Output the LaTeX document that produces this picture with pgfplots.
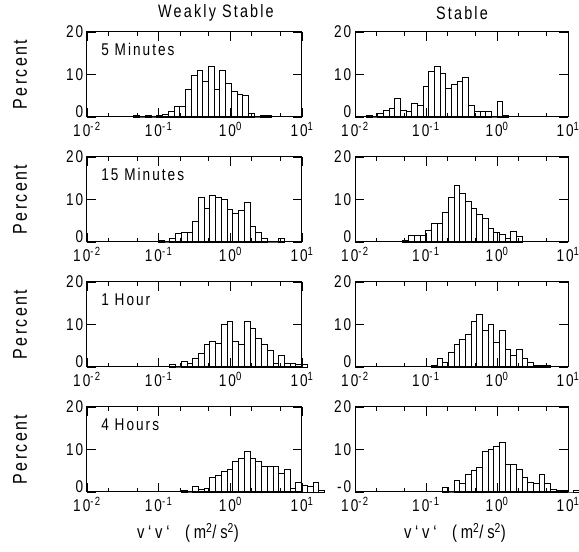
\documentclass[border=0pt]{standalone}
\usepackage{fontspec}
\setmainfont{Liberation Sans}[FakeStretch=0.8, LetterSpace=12]
\newfontfamily\widefont{Liberation Sans}[FakeStretch=0.8, LetterSpace=20]
\usepackage{pgfplots}
\pgfplotsset{compat=1.18}

\pgfplotsset{hist/.style={
  scale only axis, height=85pt,
  xmin=-2, xmax=1, ymin=0, ymax=20,
  xtick={-2,-1,0,1},
  xticklabels={10\textsuperscript{-2},10\textsuperscript{-1},10\textsuperscript{0},10\textsuperscript{1}},
  minor xtick={-1.699,-1.301,-0.699,-0.301,0.301,0.699},
  ytick={0,10,20}, yticklabels={\raisebox{-1pt}[0pt][0pt]{0},10,20},
  tick align=inside, major tick length=9pt, minor tick length=4pt,
  axis on top, clip=false,
  axis line style={line width=1pt},
  every tick/.style={black, line width=0.9pt},
  xticklabel style={inner sep=5pt},
  yticklabel style={inner sep=3.5pt},
}}
\pgfplotsset{bars/.style={ybar interval, fill=white, draw=black, line width=0.9pt}}

\begin{document}
\begin{tikzpicture}[font=\fontsize{17}{20}\selectfont]
\path[use as bounding box] (0pt,0pt) rectangle (579pt,552pt);

% Row 1 left: 5 Minutes, weakly stable
\begin{axis}[hist, width=215pt, at={(87pt,435pt)}, anchor=south west]
\addplot[bars] table {
x y
-1.345 0.25
-1.265 0
-1.185 0.25
-1.105 0
-1.025 0.25
-0.945 0.5
-0.865 1.3
-0.785 2.4
-0.705 2.4
-0.625 6.5
-0.545 9.7
-0.465 11.0
-0.385 8.4
-0.305 11.9
-0.225 6.5
-0.145 11.0
-0.065 7.9
0.015 5.9
0.095 5.3
0.175 5.0
0.255 0.8
0.335 0
0.415 0.25
0.495 0.25
0.575 0
};
\node[anchor=west] at (rel axis cs:0.05,0.79) {5 Minutes};
\end{axis}

% Row 1 right: 5 Minutes, stable
\begin{axis}[hist, width=213pt, at={(355pt,435pt)}, anchor=south west]
\addplot[bars] table {
x y
-1.84 0.4
-1.76 0
-1.68 0.8
-1.60 1.6
-1.52 2.0
-1.44 4.4
-1.36 1.6
-1.28 1.2
-1.20 3.2
-1.12 2.8
-1.04 7.2
-0.96 10.6
-0.88 12.0
-0.80 10.2
-0.72 6.8
-0.64 7.6
-0.56 8.4
-0.48 9.2
-0.40 2.8
-0.32 1.2
-0.24 1.2
-0.16 1.2
-0.08 0
0.00 3.6
0.08 0.3
0.16 0
};
\end{axis}

% Row 2 left: 15 Minutes
\begin{axis}[hist, width=215pt, at={(87pt,310pt)}, anchor=south west]
\addplot[bars] table {
x y
-1.005 0.3
-0.925 0
-0.845 0.9
-0.765 1.9
-0.685 2.35
-0.605 2.35
-0.525 4.9
-0.445 10.4
-0.365 8.0
-0.285 11.0
-0.205 10.5
-0.125 10.0
-0.045 7.6
0.035 6.6
0.115 7.5
0.195 9.2
0.275 3.7
0.355 2.35
0.435 0.9
0.515 0
0.595 0
0.675 0.9
0.755 0
};
\node[anchor=west] at (rel axis cs:0.05,0.79) {15 Minutes};
\end{axis}

% Row 2 right
\begin{axis}[hist, width=213pt, at={(355pt,310pt)}, anchor=south west]
\addplot[bars] table {
x y
-1.325 0.4
-1.245 1.6
-1.165 1.6
-1.085 1.6
-1.005 2.7
-0.925 4.3
-0.845 4.3
-0.765 7.0
-0.685 10.5
-0.605 13.2
-0.525 11.5
-0.445 9.6
-0.365 7.8
-0.285 6.4
-0.205 5.6
-0.125 3.3
-0.045 2.35
0.035 1.7
0.115 0.9
0.195 2.5
0.275 1.2
0.355 0
};
\end{axis}

% Row 3 left: 1 Hour
\begin{axis}[hist, width=215pt, at={(87pt,185pt)}, anchor=south west]
\addplot[bars] table {
x y
-0.845 0.5
-0.765 0
-0.685 1.2
-0.605 0.8
-0.525 2.0
-0.445 3.1
-0.365 5.3
-0.285 6.1
-0.205 5.6
-0.125 9.9
-0.045 10.6
0.035 6.1
0.115 5.2
0.195 10.6
0.275 9.1
0.355 6.7
0.435 5.2
0.515 3.8
0.595 0.9
0.675 2.6
0.755 0.9
0.835 0.9
0.915 0.5
0.995 0.5
1.075 0
};
\node[anchor=west] at (rel axis cs:0.05,0.79) {1 Hour};
\end{axis}

% Row 3 right
\begin{axis}[hist, width=213pt, at={(355pt,185pt)}, anchor=south west]
\addplot[bars] table {
x y
-0.925 0.3
-0.845 1.9
-0.765 1.1
-0.685 3.5
-0.605 5.4
-0.525 6.5
-0.445 7.7
-0.365 10.6
-0.285 12.3
-0.205 8.5
-0.125 10.1
-0.045 5.8
0.035 8.5
0.115 4.2
0.195 2.8
0.275 4.2
0.355 1.9
0.435 1.1
0.515 0.3
0.595 0.3
0.675 0.3
0.755 0
};
\end{axis}

% Row 4 left: 4 Hours
\begin{axis}[hist, width=215pt, at={(87pt,60pt)}, anchor=south west]
\addplot[bars] table {
x y
-0.685 0.3
-0.605 0
-0.525 1.25
-0.445 0.5
-0.365 0.9
-0.285 3.5
-0.205 4.0
-0.125 4.8
-0.045 5.2
0.035 7.3
0.115 7.8
0.195 9.6
0.275 7.8
0.355 7.3
0.435 6.1
0.515 6.1
0.595 6.1
0.675 4.4
0.755 5.2
0.835 0.9
0.915 2.2
0.995 1.6
1.075 1.25
1.155 2.2
1.235 0.3
1.315 0
};
\node[anchor=west] at (rel axis cs:0.05,0.79) {4 Hours};
\end{axis}

% Row 4 right
\begin{axis}[hist, width=213pt, at={(355pt,60pt)}, anchor=south west, yticklabels={\raisebox{-1pt}[0pt][0pt]{-0},10,20}]
\addplot[bars] table {
x y
-0.765 1.0
-0.685 0
-0.605 2.7
-0.525 1.9
-0.445 4.2
-0.365 5.0
-0.285 5.7
-0.205 9.6
-0.125 10.0
-0.045 10.8
0.035 11.6
0.115 6.5
0.195 6.5
0.275 5.3
0.355 3.5
0.435 2.3
0.515 1.9
0.595 4.2
0.675 1.9
0.755 0.5
0.835 0.3
0.915 0.3
0.995 0
1.075 0.3
1.155 0
};
\end{axis}

% titles and labels
\node[font=\fontsize{18}{21}\selectfont] at (216pt,539pt) {Weakly Stable};
\node[font=\fontsize{18}{21}\selectfont] at (462pt,539pt) {Stable};
\foreach \yy in {477.5,352.5,227.5,102.5}{
  \node[rotate=90, font=\fontsize{20}{23}\selectfont] at (20pt,\yy pt) {Percent};
}
\node[font=\widefont\fontsize{18.5}{21}\selectfont] at (188pt,19pt) {v‘v‘\ \ (m\textsuperscript{2}/s\textsuperscript{2})};
\node[font=\widefont\fontsize{18.5}{21}\selectfont] at (455pt,19pt) {v‘v‘\ \ (m\textsuperscript{2}/s\textsuperscript{2})};
\end{tikzpicture}
\end{document}
